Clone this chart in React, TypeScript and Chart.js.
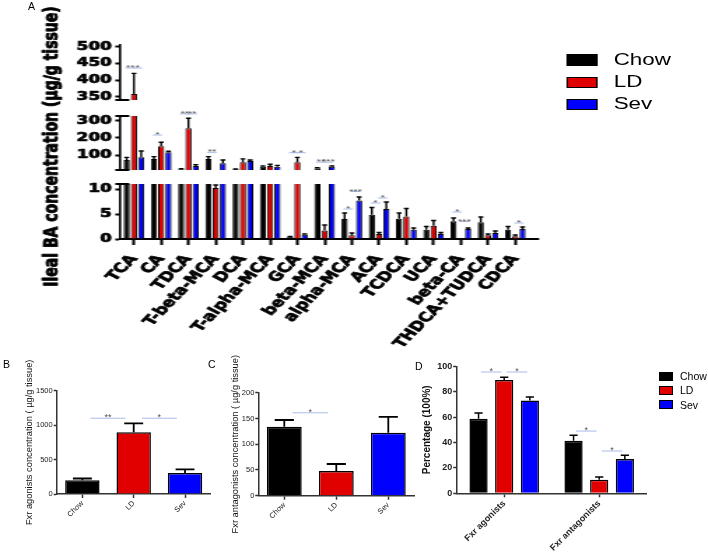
import React, { useEffect, useRef } from "react";
import { Chart, registerables } from "chart.js";

Chart.register(...registerables);

// ---------- shared ----------
const GROUPS = ["Chow", "LD", "Sev"];
const GROUP_COLORS = ["#000000", "#e00000", "#0000ff"];

// ---------- panel A: ileal bile acids (µg/g tissue), mean and SEM ----------
const BA_NAMES = ["TCA", "CA", "TDCA", "T-beta-MCA", "DCA", "T-alpha-MCA", "GCA", "beta-MCA", "alpha-MCA", "ACA", "TCDCA", "UCA", "beta-CA", "THDCA+TUDCA", "CDCA"];
const BA_CHOW = [73, 78, 20, 78, 19, 34, 0.45, 25, 4.0, 4.86, 4.06, 1.86, 3.53, 3.33, 1.86];
const BA_CHOW_SEM = [15, 14, 2, 14, 2, 4, 0.08, 4, 1.2, 1.44, 1.14, 0.64, 0.67, 1.07, 0.64];
const BA_LD = [358, 152, 256, 10.2, 60, 38, 60, 1.7, 0.73, 1.0, 4.5, 2.66, 0, 0.73, 0.53];
const BA_LD_SEM = [62, 23, 58, 0.6, 19, 10, 28, 1.1, 0.47, 0.3, 1.6, 1.04, 0, 0.27, 0.27];
const BA_SEV = [88, 117, 38, 54, 67, 34, 0.86, 34, 7.7, 6.0, 1.86, 1.0, 2.0, 1.2, 2.0];
const BA_SEV_SEM = [37, 6, 8, 19, 6, 8, 0.15, 4, 0.7, 1.4, 0.34, 0.3, 0.2, 0.4, 0.4];

// broken y-axis segments, top to bottom
const BA_SEG_MIN = [340, 15, 0];
const BA_SEG_MAX = [505, 327, 11];
const BA_SEG_TICKS = [[350, 400, 450, 500], [100, 200, 300], [0, 5, 10]];

// significance marks: category, compared groups, label, axis segment, level
const BA_SIG = [
  { cat: 0, a: 0, b: 1, label: "**", seg: 0, level: 436 },
  { cat: 0, a: 1, b: 2, label: "*", seg: 0, level: 436 },
  { cat: 1, a: 0, b: 1, label: "*", seg: 1, level: 217 },
  { cat: 2, a: 0, b: 1, label: "**", seg: 1, level: 339 },
  { cat: 2, a: 1, b: 2, label: "**", seg: 1, level: 339 },
  { cat: 3, a: 0, b: 1, label: "**", seg: 1, level: 117 },
  { cat: 6, a: 0, b: 1, label: "*", seg: 1, level: 115 },
  { cat: 6, a: 1, b: 2, label: "*", seg: 1, level: 115 },
  { cat: 7, a: 0, b: 1, label: "**", seg: 1, level: 60 },
  { cat: 7, a: 1, b: 2, label: "***", seg: 1, level: 60 },
  { cat: 8, a: 0, b: 1, label: "*", seg: 2, level: 6.0 },
  { cat: 8, a: 1, b: 2, label: "***", seg: 2, level: 9.5 },
  { cat: 9, a: 0, b: 1, label: "*", seg: 2, level: 7.2 },
  { cat: 9, a: 1, b: 2, label: "*", seg: 2, level: 8.2 },
  { cat: 12, a: 0, b: 1, label: "*", seg: 2, level: 5.4 },
  { cat: 12, a: 1, b: 2, label: "***", seg: 2, level: 3.5 },
  { cat: 14, a: 1, b: 2, label: "*", seg: 2, level: 3.2 },
];

// ---------- panel B: Fxr agonists ----------
const AGONIST_MEAN = [200, 895, 305];
const AGONIST_SEM = [25, 131, 53];
const AGONIST_SIG = [
  { a: 0, b: 1, label: "**", level: 1100 },
  { a: 1, b: 2, label: "*", level: 1100 },
];

// ---------- panel C: Fxr antagonists ----------
const ANTAGONIST_MEAN = [134, 48, 122];
const ANTAGONIST_SEM = [13, 13.6, 31];
const ANTAGONIST_SIG = [{ a: 0, b: 1, label: "*", level: 161 }];

// ---------- panel D: percentages ----------
const PCT_CATS = ["Fxr agonists", "Fxr antagonists"];
const PCT_CHOW = [58.7, 41.3];
const PCT_CHOW_SEM = [4.5, 4.5];
const PCT_LD = [89.3, 10.7];
const PCT_LD_SEM = [2.1, 2.1];
const PCT_SEV = [73.0, 27.0];
const PCT_SEV_SEM = [2.9, 2.9];
const PCT_SIG = [
  { cat: 0, a: 0, b: 1, label: "*", level: 95.5 },
  { cat: 0, a: 1, b: 2, label: "*", level: 95.5 },
  { cat: 1, a: 0, b: 1, label: "*", level: 49 },
  { cat: 1, a: 1, b: 2, label: "*", level: 33.3 },
];

// ---------- layout ----------
const A_W = 506;
const A_H = 360;
const STRETCH = 708 / A_W;
const A_AREA_TOP = [45, 116, 184];
const A_AREA_BOTTOM = [100, 170, 239];

const SANS = '"Liberation Sans", Arial, sans-serif';
const WIDE = '"DejaVu Sans", sans-serif';

const plainNumber = (v: any) => String(v);

// ---------- plugins ----------
function errorBarsPlugin(errors: number[][], lineWidth: number, capFrac: number, clip: boolean) {
  return {
    id: "errorBars",
    afterDatasetsDraw(chart: any) {
      const { ctx, chartArea } = chart;
      ctx.save();
      if (clip) {
        ctx.beginPath();
        ctx.rect(chartArea.left - 5, chartArea.top, chartArea.right - chartArea.left + 10, chartArea.bottom - chartArea.top);
        ctx.clip();
      }
      ctx.strokeStyle = "#000";
      ctx.lineWidth = lineWidth;
      chart.data.datasets.forEach((ds: any, di: number) => {
        const errs = errors[di];
        if (!errs) return;
        const meta = chart.getDatasetMeta(di);
        const yScale = chart.scales[meta.yAxisID];
        meta.data.forEach((bar: any, i: number) => {
          const v = ds.data[i];
          const e = errs[i];
          if (!e) return;
          const yTop = yScale.getPixelForValue(v + e);
          const yBar = yScale.getPixelForValue(v);
          const half = (bar.width * capFrac) / 2;
          ctx.beginPath();
          ctx.moveTo(bar.x, yBar);
          ctx.lineTo(bar.x, yTop);
          ctx.moveTo(bar.x - half, yTop);
          ctx.lineTo(bar.x + half, yTop);
          ctx.stroke();
        });
      });
      ctx.restore();
    },
  };
}

type SigItem = { from: [number, number]; to: [number, number]; label: string; value: number };

function sigPlugin(items: SigItem[], span: number, font: string) {
  return {
    id: "sigMarks",
    afterDatasetsDraw(chart: any) {
      const { ctx } = chart;
      ctx.save();
      items.forEach((it) => {
        const metaA = chart.getDatasetMeta(it.from[0]);
        const pa = metaA.data[it.from[1]];
        const pb = chart.getDatasetMeta(it.to[0]).data[it.to[1]];
        const y = chart.scales[metaA.yAxisID].getPixelForValue(it.value);
        const mid = (pa.x + pb.x) / 2;
        const half = (Math.abs(pb.x - pa.x) * span) / 2;
        ctx.strokeStyle = "#a9bbe8";
        ctx.lineWidth = 1;
        ctx.beginPath();
        ctx.moveTo(mid - half, y);
        ctx.lineTo(mid + half, y);
        ctx.stroke();
        ctx.fillStyle = "#555";
        ctx.font = font;
        ctx.textAlign = "center";
        ctx.textBaseline = "alphabetic";
        ctx.fillText(it.label, mid, y + 2);
      });
      ctx.restore();
    },
  };
}

function yTitlePlugin(text: string, x: number, y: number | null, font: string, color: string, stroke = 0) {
  return {
    id: "yTitle",
    afterDraw(chart: any) {
      const { ctx, chartArea } = chart;
      const cy = y === null ? (chartArea.top + chartArea.bottom) / 2 : y;
      ctx.save();
      ctx.translate(x, cy);
      ctx.rotate(-Math.PI / 2);
      ctx.font = font;
      ctx.fillStyle = color;
      ctx.textAlign = "center";
      ctx.textBaseline = "middle";
      if (stroke > 0) {
        ctx.strokeStyle = color;
        ctx.lineWidth = stroke;
        ctx.lineJoin = "round";
        ctx.strokeText(text, 0, 0);
      }
      ctx.fillText(text, 0, 0);
      ctx.restore();
    },
  };
}

// short caps where the y-axis is broken, and the overhang of the x-axis line
function axisBreakPlugin(capTop: boolean, capBottom: boolean, extendX: number) {
  return {
    id: "axisBreak",
    afterDraw(chart: any) {
      const { ctx, chartArea } = chart;
      const x = chartArea.left;
      ctx.save();
      ctx.strokeStyle = "#000";
      ctx.lineWidth = 2;
      const ys: number[] = [];
      if (capTop) ys.push(chartArea.top);
      if (capBottom) ys.push(chartArea.bottom);
      ys.forEach((y) => {
        ctx.beginPath();
        ctx.moveTo(x - 3.6, y);
        ctx.lineTo(x + 6.4, y);
        ctx.stroke();
      });
      if (extendX > 0) {
        ctx.beginPath();
        ctx.moveTo(chartArea.right - 1, chartArea.bottom);
        ctx.lineTo(chartArea.right + extendX, chartArea.bottom);
        ctx.stroke();
      }
      ctx.restore();
    },
  };
}

// ---------- configs ----------
function baSegmentConfig(seg: number): any {
  const isBottom = seg === 2;
  const top = A_AREA_TOP[seg];
  const bottom = A_AREA_BOTTOM[seg];
  const tickVals = BA_SEG_TICKS[seg];
  const sig: SigItem[] = BA_SIG.filter((s) => s.seg === seg).map((s) => ({
    from: [s.a, s.cat],
    to: [s.b, s.cat],
    label: s.label,
    value: s.level,
  }));
  const plugins: any[] = [
    errorBarsPlugin([BA_CHOW_SEM, BA_LD_SEM, BA_SEV_SEM], 1.4, 0.8, true),
    sigPlugin(sig, 1.3, `8px ${SANS}`),
    axisBreakPlugin(seg > 0, seg < 2, isBottom ? 7.3 : 0),
  ];
  if (seg === 1) {
    plugins.push(yTitlePlugin("Ileal BA concentration (µg/g tissue)", 37.5, 146.5, `bold 14px ${WIDE}`, "#000", 0.8));
  }
  return {
    type: "bar",
    data: {
      labels: BA_NAMES,
      datasets: [BA_CHOW, BA_LD, BA_SEV].map((d, i) => ({
        label: GROUPS[i],
        data: d,
        backgroundColor: GROUP_COLORS[i],
        borderColor: "#000",
        borderWidth: 1,
        categoryPercentage: 0.8,
        barPercentage: 0.85,
      })),
    },
    options: {
      animation: false,
      responsive: false,
      devicePixelRatio: 1,
      events: [],
      layout: { padding: { left: 30, right: 128, top, bottom: isBottom ? 0 : A_H - bottom } },
      plugins: { legend: { display: false }, tooltip: { enabled: false } },
      scales: {
        x: {
          display: isBottom,
          offset: true,
          grid: { display: true, offset: false, drawOnChartArea: false, drawTicks: true, tickLength: 6, tickWidth: 2, tickColor: "#000" },
          border: { display: true, color: "#000", width: 2 },
          ticks: {
            autoSkip: false,
            minRotation: 54.5,
            maxRotation: 54.5,
            padding: 7,
            color: "#000",
            textStrokeColor: "#000",
            textStrokeWidth: 0.7,
            font: { family: WIDE, weight: "bold", size: 13 },
          },
          afterFit: (sc: any) => {
            if (!isBottom) return;
            sc.height = A_H - bottom;
            sc.paddingLeft = 0;
            sc.paddingRight = 0;
          },
        },
        y: {
          min: BA_SEG_MIN[seg],
          max: BA_SEG_MAX[seg],
          afterBuildTicks: (sc: any) => {
            sc.ticks = tickVals.map((v) => ({ value: v }));
          },
          grid: { display: true, drawOnChartArea: false, drawTicks: true, tickLength: 3.6, tickWidth: 2, tickColor: "#000" },
          border: { display: true, color: "#000", width: 1.6 },
          ticks: {
            padding: 2.5,
            color: "#000",
            textStrokeColor: "#000",
            textStrokeWidth: 0.7,
            font: { family: WIDE, weight: "bold", size: 12 },
            callback: plainNumber,
          },
          afterFit: (sc: any) => {
            sc.width = 56;
            sc.paddingTop = 0;
            sc.paddingBottom = 0;
          },
        },
      },
    },
    plugins,
  };
}

type SmallPanel = {
  labels: string[];
  values: number[];
  errors: number[];
  sig: { a: number; b: number; label: string; level: number }[];
  max: number;
  step: number;
  title: string;
  titleX: number;
  canvasW: number;
  canvasH: number;
  area: { left: number; right: number; top: number; bottom: number };
};

function smallPanelConfig(p: SmallPanel): any {
  const sig: SigItem[] = p.sig.map((s) => ({ from: [0, s.a], to: [0, s.b], label: s.label, value: s.level }));
  return {
    type: "bar",
    data: {
      labels: p.labels,
      datasets: [
        {
          data: p.values,
          backgroundColor: GROUP_COLORS,
          borderColor: "#000",
          borderWidth: 1.5,
          categoryPercentage: 0.67,
          barPercentage: 1,
        },
      ],
    },
    options: {
      animation: false,
      responsive: false,
      devicePixelRatio: 1,
      events: [],
      layout: { padding: { left: 0, right: p.canvasW - p.area.right, top: p.area.top, bottom: 0 } },
      plugins: { legend: { display: false }, tooltip: { enabled: false } },
      scales: {
        x: {
          offset: true,
          grid: { display: true, offset: false, drawOnChartArea: false, drawTicks: true, tickLength: 4, tickWidth: 1.5, tickColor: "#333" },
          border: { display: true, color: "#333", width: 1.5 },
          ticks: { autoSkip: false, minRotation: 45, maxRotation: 45, padding: 1, color: "#222", font: { family: SANS, size: 7.5 } },
          afterFit: (sc: any) => {
            sc.height = p.canvasH - p.area.bottom;
            sc.paddingLeft = 0;
            sc.paddingRight = 0;
          },
        },
        y: {
          min: 0,
          max: p.max,
          grid: { display: true, drawOnChartArea: false, drawTicks: true, tickLength: 3, tickWidth: 1.5, tickColor: "#333" },
          border: { display: true, color: "#333", width: 1.5 },
          ticks: { stepSize: p.step, padding: 1, color: "#222", font: { family: SANS, size: 7.5 }, callback: plainNumber },
          afterFit: (sc: any) => {
            sc.width = p.area.left;
            sc.paddingTop = 0;
            sc.paddingBottom = 0;
          },
        },
      },
    },
    plugins: [
      errorBarsPlugin([p.errors], 1.8, 0.55, false),
      sigPlugin(sig, 0.68, `9px ${SANS}`),
      yTitlePlugin(p.title, p.titleX, null, `9.3px ${SANS}`, "#111"),
    ],
  };
}

function percentConfig(): any {
  const canvasW = 293;
  const canvasH = 208;
  const area = { left: 41.7, right: 231.7, top: 16.3, bottom: 143.3 };
  const sig: SigItem[] = PCT_SIG.map((s) => ({ from: [s.a, s.cat], to: [s.b, s.cat], label: s.label, value: s.level }));
  return {
    type: "bar",
    data: {
      labels: PCT_CATS,
      datasets: [PCT_CHOW, PCT_LD, PCT_SEV].map((d, i) => ({
        label: GROUPS[i],
        data: d,
        backgroundColor: GROUP_COLORS[i],
        borderColor: "#000",
        borderWidth: 1.5,
        categoryPercentage: 0.81,
        barPercentage: 0.71,
      })),
    },
    options: {
      animation: false,
      responsive: false,
      devicePixelRatio: 1,
      events: [],
      layout: { padding: { left: 0, right: canvasW - area.right, top: area.top, bottom: 0 } },
      plugins: { legend: { display: false }, tooltip: { enabled: false } },
      scales: {
        x: {
          offset: true,
          grid: { display: true, offset: false, drawOnChartArea: false, drawTicks: true, tickLength: 4, tickWidth: 1.5, tickColor: "#333" },
          border: { display: true, color: "#333", width: 1.5 },
          ticks: { autoSkip: false, minRotation: 45, maxRotation: 45, padding: 1, color: "#222", font: { family: SANS, weight: "bold", size: 9 } },
          afterFit: (sc: any) => {
            sc.height = canvasH - area.bottom;
            sc.paddingLeft = 0;
            sc.paddingRight = 0;
          },
        },
        y: {
          min: 0,
          max: 100,
          grid: { display: true, drawOnChartArea: false, drawTicks: true, tickLength: 3.5, tickWidth: 1.5, tickColor: "#333" },
          border: { display: true, color: "#333", width: 1.5 },
          ticks: { stepSize: 20, padding: 1, color: "#222", font: { family: SANS, weight: "bold", size: 9 }, callback: plainNumber },
          afterFit: (sc: any) => {
            sc.width = area.left;
            sc.paddingTop = 0;
            sc.paddingBottom = 0;
          },
        },
      },
    },
    plugins: [
      errorBarsPlugin([PCT_CHOW_SEM, PCT_LD_SEM, PCT_SEV_SEM], 1.5, 0.45, false),
      sigPlugin(sig, 0.8, `9px ${SANS}`),
      yTitlePlugin("Percentage (100%)", 12, null, `bold 10px ${SANS}`, "#111"),
    ],
  };
}

// ---------- components ----------
function ChartCanvas(props: { left: number; top: number; width: number; height: number; build: () => any }) {
  const ref = useRef<HTMLCanvasElement>(null);
  useEffect(() => {
    const chart = new Chart(ref.current as HTMLCanvasElement, props.build());
    return () => chart.destroy();
  }, []);
  return (
    <canvas
      ref={ref}
      width={props.width}
      height={props.height}
      style={{ position: "absolute", left: props.left, top: props.top, width: props.width, height: props.height, display: "block" }}
    />
  );
}

function Legend(props: {
  left: number;
  tops: number[];
  boxW: number;
  boxH: number;
  textLeft: number;
  fontSize: number;
}) {
  return (
    <>
      {GROUPS.map((g, i) => (
        <React.Fragment key={g}>
          <div
            style={{
              position: "absolute",
              left: props.left,
              top: props.tops[i],
              width: props.boxW,
              height: props.boxH,
              boxSizing: "border-box",
              background: GROUP_COLORS[i],
              border: "1px solid #000",
            }}
          />
          <div
            style={{
              position: "absolute",
              left: props.textLeft,
              top: props.tops[i] + props.boxH / 2 - 10,
              height: 20,
              lineHeight: "20px",
              fontFamily: SANS,
              fontSize: props.fontSize,
              color: "#000",
              whiteSpace: "nowrap",
            }}
          >
            {g}
          </div>
        </React.Fragment>
      ))}
    </>
  );
}

function PanelLabel(props: { text: string; left: number; top: number }) {
  return (
    <div
      style={{
        position: "absolute",
        left: props.left,
        top: props.top,
        fontFamily: SANS,
        fontSize: 10.5,
        lineHeight: "12px",
        color: "#000",
      }}
    >
      {props.text}
    </div>
  );
}

export default function App() {
  return (
    <div
      style={{
        position: "fixed",
        left: 0,
        top: 0,
        width: 708,
        height: 558,
        background: "#fff",
        overflow: "hidden",
      }}
    >
      {/* panel A: drawn narrow and widened horizontally */}
      <div
        style={{
          position: "absolute",
          left: 0,
          top: 0,
          width: A_W,
          height: A_H,
          transform: `scaleX(${STRETCH})`,
          transformOrigin: "0 0",
        }}
      >
        {[0, 1, 2].map((seg) => (
          <ChartCanvas key={seg} left={0} top={0} width={A_W} height={A_H} build={() => baSegmentConfig(seg)} />
        ))}
        <Legend left={404.8} tops={[54.3, 76.5, 98.7]} boxW={22.6} boxH={11.4} textLeft={438.6} fontSize={16} />
      </div>
      <PanelLabel text="A" left={28} top={0} />

      {/* panel B */}
      <ChartCanvas
        left={0}
        top={350}
        width={225}
        height={208}
        build={() =>
          smallPanelConfig({
            labels: GROUPS,
            values: AGONIST_MEAN,
            errors: AGONIST_SEM,
            sig: AGONIST_SIG,
            max: 1500,
            step: 500,
            title: "Fxr agonists concentration ( µg/g tissue)",
            titleX: 29,
            canvasW: 225,
            canvasH: 208,
            area: { left: 56.7, right: 210.7, top: 40.7, bottom: 144 },
          })
        }
      />
      <PanelLabel text="B" left={3} top={358} />

      {/* panel C */}
      <ChartCanvas
        left={225}
        top={350}
        width={190}
        height={208}
        build={() =>
          smallPanelConfig({
            labels: GROUPS,
            values: ANTAGONIST_MEAN,
            errors: ANTAGONIST_SEM,
            sig: ANTAGONIST_SIG,
            max: 200,
            step: 50,
            title: "Fxr antagonists concentration ( µg/g tissue)",
            titleX: 10,
            canvasW: 190,
            canvasH: 208,
            area: { left: 33.3, right: 189.3, top: 42.7, bottom: 145.7 },
          })
        }
      />
      <PanelLabel text="C" left={208} top={358} />

      {/* panel D */}
      <ChartCanvas left={415} top={350} width={293} height={208} build={percentConfig} />
      <PanelLabel text="D" left={415} top={360} />
      <Legend left={659.3} tops={[371.5, 385.8, 400]} boxW={14} boxH={9} textLeft={680} fontSize={10.5} />
    </div>
  );
}
